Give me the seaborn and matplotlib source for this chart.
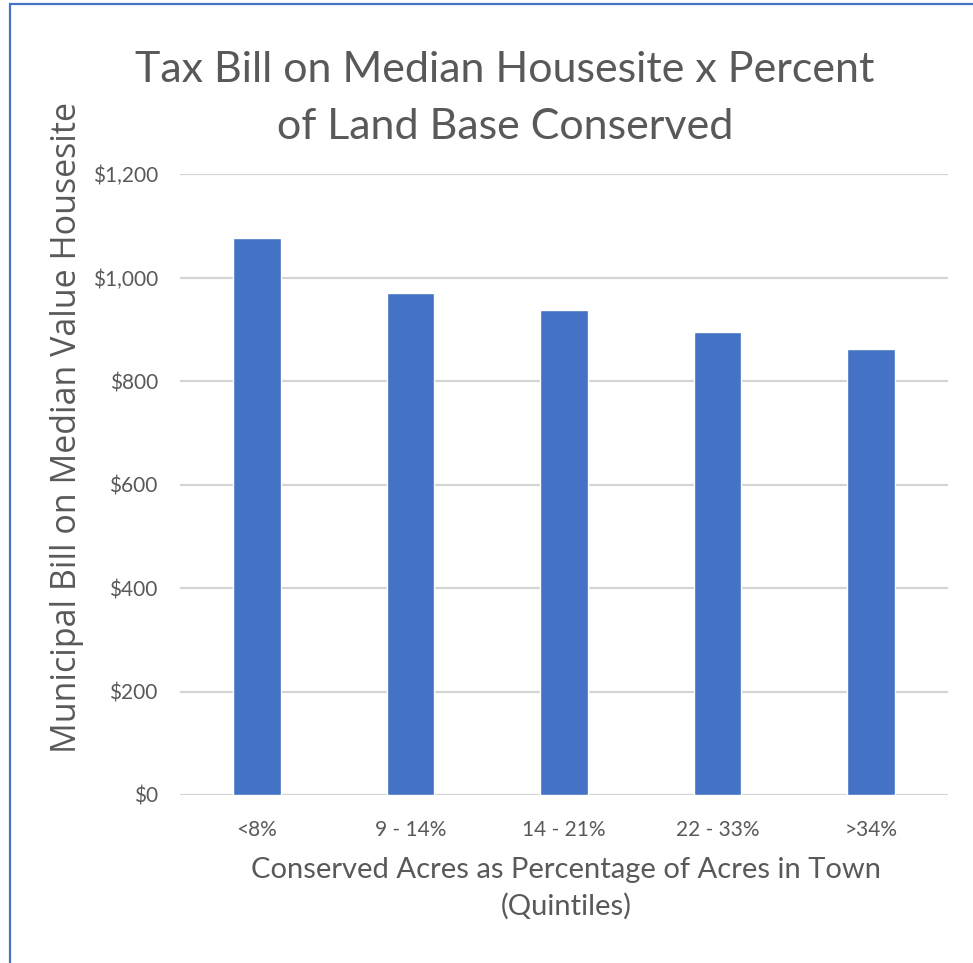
import matplotlib
matplotlib.use("Agg")
import matplotlib.pyplot as plt
import seaborn as sns
import pandas as pd
from matplotlib.patches import Rectangle
from matplotlib.ticker import FuncFormatter

# values
quintiles = ["<8%", "9 - 14%", "14 - 21%", "22 - 33%", ">34%"]
tax_bill = [1077, 971, 938, 895, 863]

df = pd.DataFrame({"Quintile": quintiles, "Bill": tax_bill})

sns.set_theme(style="white")
plt.rcParams['font.family'] = ['Lato', 'DejaVu Sans']
grey = "#595959"

fig = plt.figure(figsize=(9.73, 9.63), dpi=100)
ax = fig.add_axes([0.185, 0.1745, 0.789, 0.6445])

sns.barplot(data=df, x="Quintile", y="Bill", color="#4472C4", width=0.31,
            saturation=1, ax=ax, zorder=3)

ax.set_ylim(0, 1200)
ax.set_yticks(range(0, 1201, 200))
ax.yaxis.set_major_formatter(FuncFormatter(lambda v, p: f"${v:,.0f}"))
ax.grid(axis='y', color="#D4D4D4", linewidth=1.6, zorder=0)
ax.set_axisbelow(True)
sns.despine(ax=ax, left=True, bottom=True, top=True, right=True)
ax.tick_params(axis='both', length=0, labelsize=15, labelcolor=grey)
ax.tick_params(axis='y', pad=16)
ax.tick_params(axis='x', pad=18)
ax.set_xlabel("")
ax.set_ylabel("")

fig.text(0.519, 0.898, "Tax Bill on Median Housesite x Percent\nof Land Base Conserved",
         ha='center', va='center', fontsize=31, color=grey, linespacing=1.6)
fig.text(0.069, 0.556, "Municipal Bill on Median Value Housesite", rotation=90,
         ha='center', va='center', fontsize=24.5, color=grey, family=['Open Sans', 'DejaVu Sans'])
fig.text(0.582, 0.078, "Conserved Acres as Percentage of Acres in Town\n(Quintiles)",
         ha='center', va='center', fontsize=21, color=grey, linespacing=1.45)

# chart border (only top and left edges visible in the frame)
fig.patches.append(Rectangle((10 / 973, -0.05), 1.2, 1 - 4 / 963 + 0.05,
                             transform=fig.transFigure, fill=False,
                             edgecolor="#4472C4", linewidth=1.6))

fig.savefig("out.png", dpi=100)
